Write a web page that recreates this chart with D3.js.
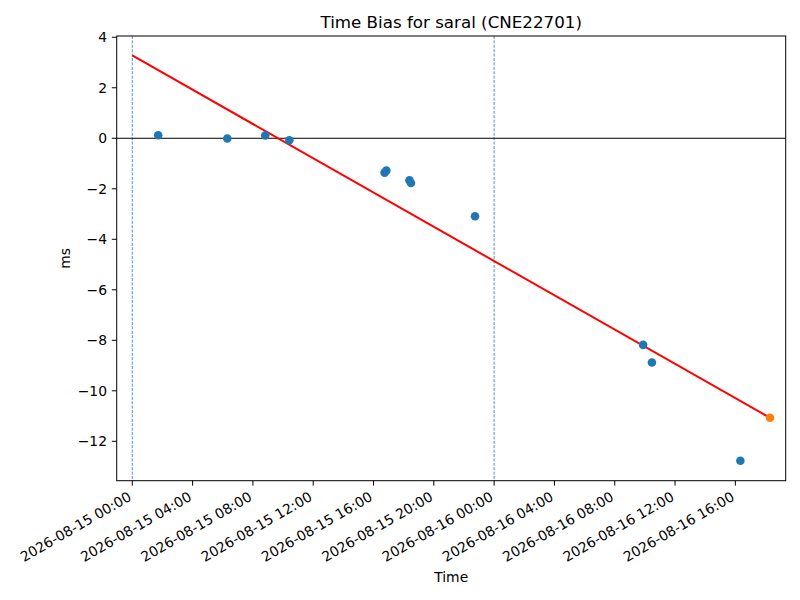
<!DOCTYPE html>
<html>
<head>
<meta charset="utf-8">
<script src="https://cdn.jsdelivr.net/npm/d3@7"></script>
<style>
  body { margin: 0; background: #fff; }
  svg text { font-family: "DejaVu Sans", sans-serif; fill: #000; }
</style>
</head>
<body>
<div id="chart"></div>
<script>
// measured passes (UTC) and their time bias in ms
const passTimes = [
  "2026-08-15T01:43Z", "2026-08-15T06:18Z", "2026-08-15T08:49Z", "2026-08-15T10:25Z",
  "2026-08-15T16:44Z", "2026-08-15T16:51Z", "2026-08-15T18:23Z", "2026-08-15T18:29Z",
  "2026-08-15T22:44Z", "2026-08-16T09:53Z", "2026-08-16T10:28Z", "2026-08-16T16:20Z"
];
const passBias = [0.12, -0.01, 0.11, -0.08, -1.36, -1.28, -1.66, -1.77, -3.09, -8.18, -8.88, -12.77];

// predicted point (orange) and linear fit endpoints
const predTime = ["2026-08-16T18:18Z"];
const predBias = [-11.07];
const fitTimes = ["2026-08-15T00:00Z", "2026-08-16T18:18Z"];
const fitBias = [3.28, -11.07];

// day boundaries (dashed lines)
const dayMarks = ["2026-08-15T00:00Z", "2026-08-16T00:00Z"];

const yTicks = [4, 2, 0, -2, -4, -6, -8, -10, -12];

const width = 800;
const height = 600;
const margin = { top: 36, right: 14.3, bottom: 119.3, left: 116.7 };

const svg = d3.select("#chart")
  .append("svg")
  .attr("width", width)
  .attr("height", height);

const t0 = new Date("2026-08-15T00:00Z");
const hour = 3600 * 1000;

const x = d3.scaleUtc()
  .domain([new Date(+t0 - 1.035 * hour), new Date(+t0 + 43.34 * hour)])
  .range([margin.left, width - margin.right]);

const y = d3.scaleLinear()
  .domain([-13.56, 4.05])
  .range([height - margin.bottom, margin.top]);

const plotBottom = height - margin.bottom;
const fmt = d3.utcFormat("%Y-%m-%d %H:%M");

// dashed vertical lines at day starts
svg.append("g")
  .selectAll("line")
  .data(dayMarks)
  .enter()
  .append("line")
  .attr("x1", d => x(new Date(d)))
  .attr("x2", d => x(new Date(d)))
  .attr("y1", margin.top)
  .attr("y2", plotBottom)
  .attr("stroke", "#1f77b4")
  .attr("stroke-width", 0.8)
  .attr("stroke-dasharray", "3,1.4");

// zero line
svg.append("line")
  .attr("x1", margin.left)
  .attr("x2", width - margin.right)
  .attr("y1", y(0))
  .attr("y2", y(0))
  .attr("stroke", "#000")
  .attr("stroke-width", 1);

// fit line
const fitData = fitTimes.map((d, i) => [new Date(d), fitBias[i]]);
svg.append("path")
  .datum(fitData)
  .attr("fill", "none")
  .attr("stroke", "red")
  .attr("stroke-width", 2)
  .attr("d", d3.line().x(d => x(d[0])).y(d => y(d[1])));

// measured points
svg.append("g")
  .selectAll("circle")
  .data(passTimes.map((d, i) => [new Date(d), passBias[i]]))
  .enter()
  .append("circle")
  .attr("cx", d => x(d[0]))
  .attr("cy", d => y(d[1]))
  .attr("r", 4.3)
  .attr("fill", "#1f77b4");

// predicted point
svg.append("g")
  .selectAll("circle")
  .data(predTime.map((d, i) => [new Date(d), predBias[i]]))
  .enter()
  .append("circle")
  .attr("cx", d => x(d[0]))
  .attr("cy", d => y(d[1]))
  .attr("r", 4.3)
  .attr("fill", "#ff7f0e");

// frame
svg.append("rect")
  .attr("x", margin.left)
  .attr("y", margin.top)
  .attr("width", width - margin.left - margin.right)
  .attr("height", plotBottom - margin.top)
  .attr("fill", "none")
  .attr("stroke", "#000")
  .attr("stroke-width", 1);

// x axis ticks every 4 hours
const xTicks = x.ticks(d3.utcHour.every(4));
const xg = svg.append("g");
xg.selectAll("line")
  .data(xTicks)
  .enter()
  .append("line")
  .attr("x1", d => x(d))
  .attr("x2", d => x(d))
  .attr("y1", plotBottom)
  .attr("y2", plotBottom + 4.9)
  .attr("stroke", "#000")
  .attr("stroke-width", 1);
xg.selectAll("text")
  .data(xTicks)
  .enter()
  .append("text")
  .attr("transform", d => `translate(${x(d)},${plotBottom + 19}) rotate(-30)`)
  .attr("text-anchor", "end")
  .style("font-size", "13.9px")
  .text(d => fmt(d));

// y axis
const yg = svg.append("g");
yg.selectAll("line")
  .data(yTicks)
  .enter()
  .append("line")
  .attr("x1", margin.left - 4.9)
  .attr("x2", margin.left)
  .attr("y1", d => y(d))
  .attr("y2", d => y(d))
  .attr("stroke", "#000")
  .attr("stroke-width", 1);
yg.selectAll("text")
  .data(yTicks)
  .enter()
  .append("text")
  .attr("x", margin.left - 9.7)
  .attr("y", d => y(d))
  .attr("dy", "0.36em")
  .attr("text-anchor", "end")
  .style("font-size", "13.9px")
  .text(d => d < 0 ? "\u2212" + Math.abs(d) : d);

// labels
const cx = (margin.left + width - margin.right) / 2;
svg.append("text")
  .attr("x", cx)
  .attr("y", 28)
  .attr("text-anchor", "middle")
  .style("font-size", "16.7px")
  .text("Time Bias for saral (CNE22701)");

svg.append("text")
  .attr("x", cx)
  .attr("y", 582)
  .attr("text-anchor", "middle")
  .style("font-size", "13.9px")
  .text("Time");

svg.append("text")
  .attr("transform", `translate(70,${(margin.top + plotBottom) / 2}) rotate(-90)`)
  .attr("text-anchor", "middle")
  .style("font-size", "13.9px")
  .text("ms");
</script>
</body>
</html>
